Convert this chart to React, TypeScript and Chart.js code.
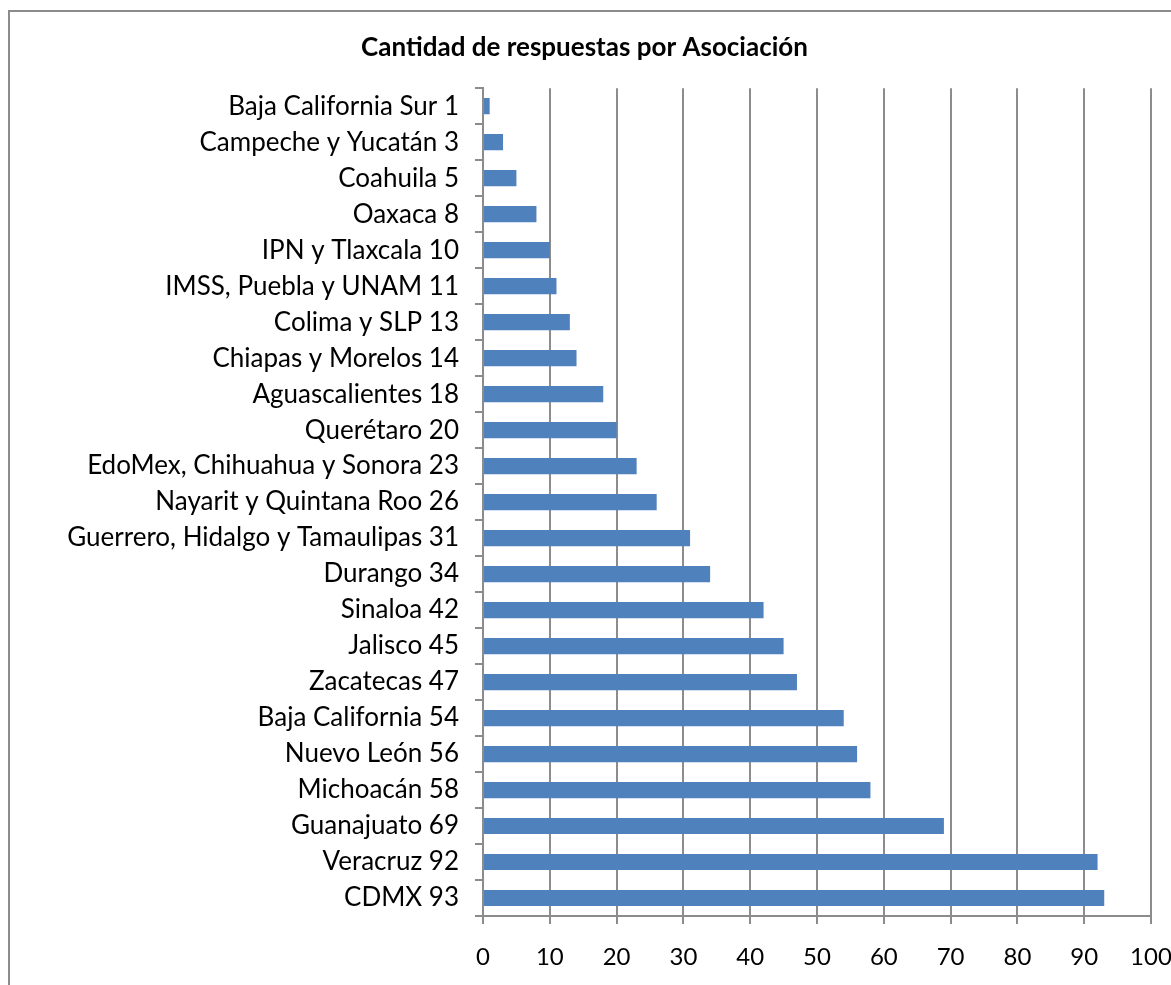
import React, { useEffect, useRef } from "react";
import { Chart, registerables } from "chart.js";

Chart.register(...registerables);

const categories = [
  "Baja California Sur 1",
  "Campeche y Yucatán 3",
  "Coahuila 5",
  "Oaxaca 8",
  "IPN y Tlaxcala 10",
  "IMSS, Puebla y UNAM 11",
  "Colima y SLP 13",
  "Chiapas y Morelos 14",
  "Aguascalientes 18",
  "Querétaro 20",
  "EdoMex, Chihuahua y Sonora 23",
  "Nayarit y Quintana Roo 26",
  "Guerrero, Hidalgo y Tamaulipas 31",
  "Durango 34",
  "Sinaloa 42",
  "Jalisco 45",
  "Zacatecas 47",
  "Baja California 54",
  "Nuevo León 56",
  "Michoacán 58",
  "Guanajuato 69",
  "Veracruz 92",
  "CDMX 93",
];

const values = [1, 3, 5, 8, 10, 11, 13, 14, 18, 20, 23, 26, 31, 34, 42, 45, 47, 54, 56, 58, 69, 92, 93];

const xMin = 0;
const xMax = 100;
const xStep = 10;

const titleText = "Cantidad de respuestas por Asociación";

const FONT = "Lato, 'Open Sans', sans-serif";

const framePlugin = {
  id: "frame",
  beforeDraw(chart: any) {
    const ctx = chart.ctx;
    ctx.save();
    ctx.fillStyle = "#ffffff";
    ctx.fillRect(0, 0, chart.width, chart.height);
    ctx.strokeStyle = "#8c8c8c";
    ctx.lineWidth = 2;
    ctx.strokeRect(9, 11, chart.width + 20, chart.height + 20);
    ctx.restore();
  },
};

export default function App() {
  const ref = useRef<HTMLCanvasElement | null>(null);

  useEffect(() => {
    if (!ref.current) return;
    const chart = new Chart(ref.current, {
      type: "bar",
      data: {
        labels: categories,
        datasets: [
          {
            data: values,
            backgroundColor: "#4F81BD",
            borderWidth: 0,
            barPercentage: 0.45,
            categoryPercentage: 1,
          },
        ],
      },
      options: {
        indexAxis: "y",
        responsive: false,
        animation: false,
        devicePixelRatio: 1,
        layout: { padding: { left: 0, right: 2, top: 0, bottom: 0 } },
        plugins: {
          legend: { display: false },
          tooltip: { enabled: false },
          title: {
            display: true,
            text: titleText,
            color: "#000000",
            font: { family: FONT, size: 26, weight: "bold", lineHeight: 1.2 },
            padding: { top: 32, bottom: 25 },
          },
        },
        scales: {
          x: {
            type: "linear",
            min: xMin,
            max: xMax,
            ticks: {
              stepSize: xStep,
              color: "#000000",
              font: { family: FONT, size: 24 },
              padding: 19,
            },
            grid: {
              color: "#8c8c8c",
              lineWidth: 2,
              tickLength: 8,
              drawOnChartArea: true,
            },
            border: { display: true, color: "#8c8c8c", width: 2 },
            afterFit(scale: any) {
              scale.height = 69;
              scale.paddingRight = 20;
              scale.paddingLeft = 0;
            },
          },
          y: {
            type: "category",
            ticks: {
              color: "#000000",
              font: { family: FONT, size: 26 },
              padding: 16,
              autoSkip: false,
            },
            grid: {
              offset: true,
              color: "#8c8c8c",
              lineWidth: 2,
              tickLength: 8,
              drawOnChartArea: false,
            },
            border: { display: true, color: "#8c8c8c", width: 2 },
            afterFit(scale: any) {
              scale.width = 483;
            },
          },
        },
      },
      plugins: [framePlugin],
    });
    return () => chart.destroy();
  }, []);

  return (
    <div style={{ position: "fixed", left: 0, top: 0, width: 1171, height: 985 }}>
      <canvas ref={ref} width={1171} height={985} style={{ display: "block" }} />
    </div>
  );
}
